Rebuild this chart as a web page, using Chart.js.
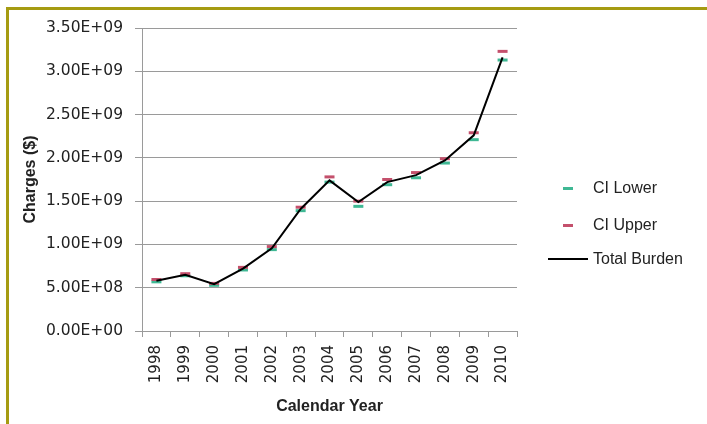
<!DOCTYPE html>
<html>
<head>
<meta charset="utf-8">
<script src="https://cdn.jsdelivr.net/npm/chart.js@4"></script>
<style>
  html, body { margin: 0; padding: 0; background: #ffffff; }
  #wrap { position: relative; width: 707px; height: 424px; overflow: hidden; background: #ffffff; }
  #frameTop { position: absolute; left: 6px; top: 7px; width: 701px; height: 3px; background: #a59b12; }
  #frameLeft { position: absolute; left: 6px; top: 7px; width: 3px; height: 417px; background: #a59b12; }
  canvas { position: absolute; left: 0; top: 0; }
  #legend { position: absolute; left: 540px; top: 176px; font-family: "Liberation Sans", Arial, sans-serif; font-size: 16px; color: #222; }
  .item { position: absolute; white-space: nowrap; height: 20px; line-height: 20px; }
  .item .txt { position: absolute; left: 53px; top: 0; }
  .item .mk { position: absolute; top: 9px; height: 2px; }
</style>
</head>
<body>
<div id="wrap">
  <canvas id="c" width="707" height="424"></canvas>
  <div id="frameTop"></div>
  <div id="frameLeft"></div>
  <div id="legend"></div>
</div>
<script>
const years = ["1998","1999","2000","2001","2002","2003","2004","2005","2006","2007","2008","2009","2010"];
const totalBurden = [5.80e8, 6.50e8, 5.40e8, 7.20e8, 9.55e8, 1.41e9, 1.74e9, 1.49e9, 1.72e9, 1.80e9, 1.97e9, 2.26e9, 3.16e9];
const ciUpper = [5.95e8, 6.62e8, 5.50e8, 7.35e8, 9.75e8, 1.43e9, 1.78e9, 1.50e9, 1.75e9, 1.83e9, 1.99e9, 2.29e9, 3.23e9];
const ciLower = [5.68e8, 6.38e8, 5.28e8, 7.05e8, 9.40e8, 1.39e9, 1.72e9, 1.44e9, 1.69e9, 1.77e9, 1.94e9, 2.21e9, 3.13e9];
const yTickValues = [0, 5e8, 1e9, 1.5e9, 2e9, 2.5e9, 3e9, 3.5e9];
const yTickLabels = ["0.00E+00","5.00E+08","1.00E+09","1.50E+09","2.00E+09","2.50E+09","3.00E+09","3.50E+09"];
const legendNames = ["CI Lower", "CI Upper", "Total Burden"];

const colLower = "#3fb894";
const colUpper = "#c4506c";
const colLine = "#000000";
const FONT = "'Liberation Sans', Arial, sans-serif";
const TICKFONT = "'DejaVu Sans', sans-serif";

const chart = new Chart(document.getElementById("c"), {
  type: "line",
  data: {
    labels: years,
    datasets: [
      { label: legendNames[2], data: totalBurden, borderColor: colLine, borderWidth: 2, pointRadius: 0, tension: 0, fill: false },
      { label: legendNames[1], data: ciUpper, showLine: false, pointStyle: "line", pointRadius: 5, borderWidth: 3, borderColor: colUpper, backgroundColor: colUpper },
      { label: legendNames[0], data: ciLower, showLine: false, pointStyle: "line", pointRadius: 5, borderWidth: 3, borderColor: colLower, backgroundColor: colLower }
    ]
  },
  options: {
    responsive: false,
    animation: false,
    events: [],
    layout: { padding: { left: 0, right: 190, top: 28, bottom: 0 } },
    plugins: { legend: { display: false }, tooltip: { enabled: false } },
    scales: {
      x: {
        offset: true,
        grid: { display: true, drawOnChartArea: false, offset: true, tickLength: 6, color: "#9a9a9a" },
        border: { display: true, color: "#9a9a9a", width: 1 },
        ticks: { minRotation: 90, maxRotation: 90, padding: 8, color: "#222", font: { family: TICKFONT, size: 15 } },
        title: { display: true, text: "Calendar Year", color: "#222", font: { family: FONT, size: 16, weight: "bold" }, padding: { top: 4, bottom: 8 } },
        afterFit: (s) => { s.height = 424 - 331; }
      },
      y: {
        min: 0, max: 3.5e9,
        afterBuildTicks: (s) => { s.ticks = yTickValues.map(v => ({ value: v })); },
        grid: { color: "#9a9a9a", tickLength: 7, lineWidth: 1 },
        border: { display: true, color: "#9a9a9a", width: 1 },
        ticks: { padding: 12, color: "#222", font: { family: TICKFONT, size: 15.5 },
          callback: (v) => { const i = yTickValues.indexOf(v); return i >= 0 ? yTickLabels[i] : ""; } },
        title: { display: true, text: "Charges ($)", color: "#222", font: { family: FONT, size: 16, weight: "bold" }, padding: { top: 21, bottom: 4 } },
        afterFit: (s) => { s.width = 142; }
      }
    }
  }
});

// HTML legend built from dataset styles
const lg = document.getElementById("legend");
const items = [
  { name: legendNames[0], color: colLower, w: 10, left: 23, h: 3 },
  { name: legendNames[1], color: colUpper, w: 10, left: 23, h: 3 },
  { name: legendNames[2], color: colLine, w: 40, left: 8, h: 2 }
];
const tops = [2, 39, 73];
items.forEach((it, i) => {
  const d = document.createElement("div");
  d.className = "item";
  d.style.top = tops[i] + "px";
  const m = document.createElement("div");
  m.className = "mk";
  m.style.left = it.left + "px"; m.style.width = it.w + "px"; m.style.height = it.h + "px";
  m.style.background = it.color;
  const t = document.createElement("span");
  t.className = "txt"; t.textContent = it.name;
  d.appendChild(m); d.appendChild(t);
  lg.appendChild(d);
});
</script>
</body>
</html>
